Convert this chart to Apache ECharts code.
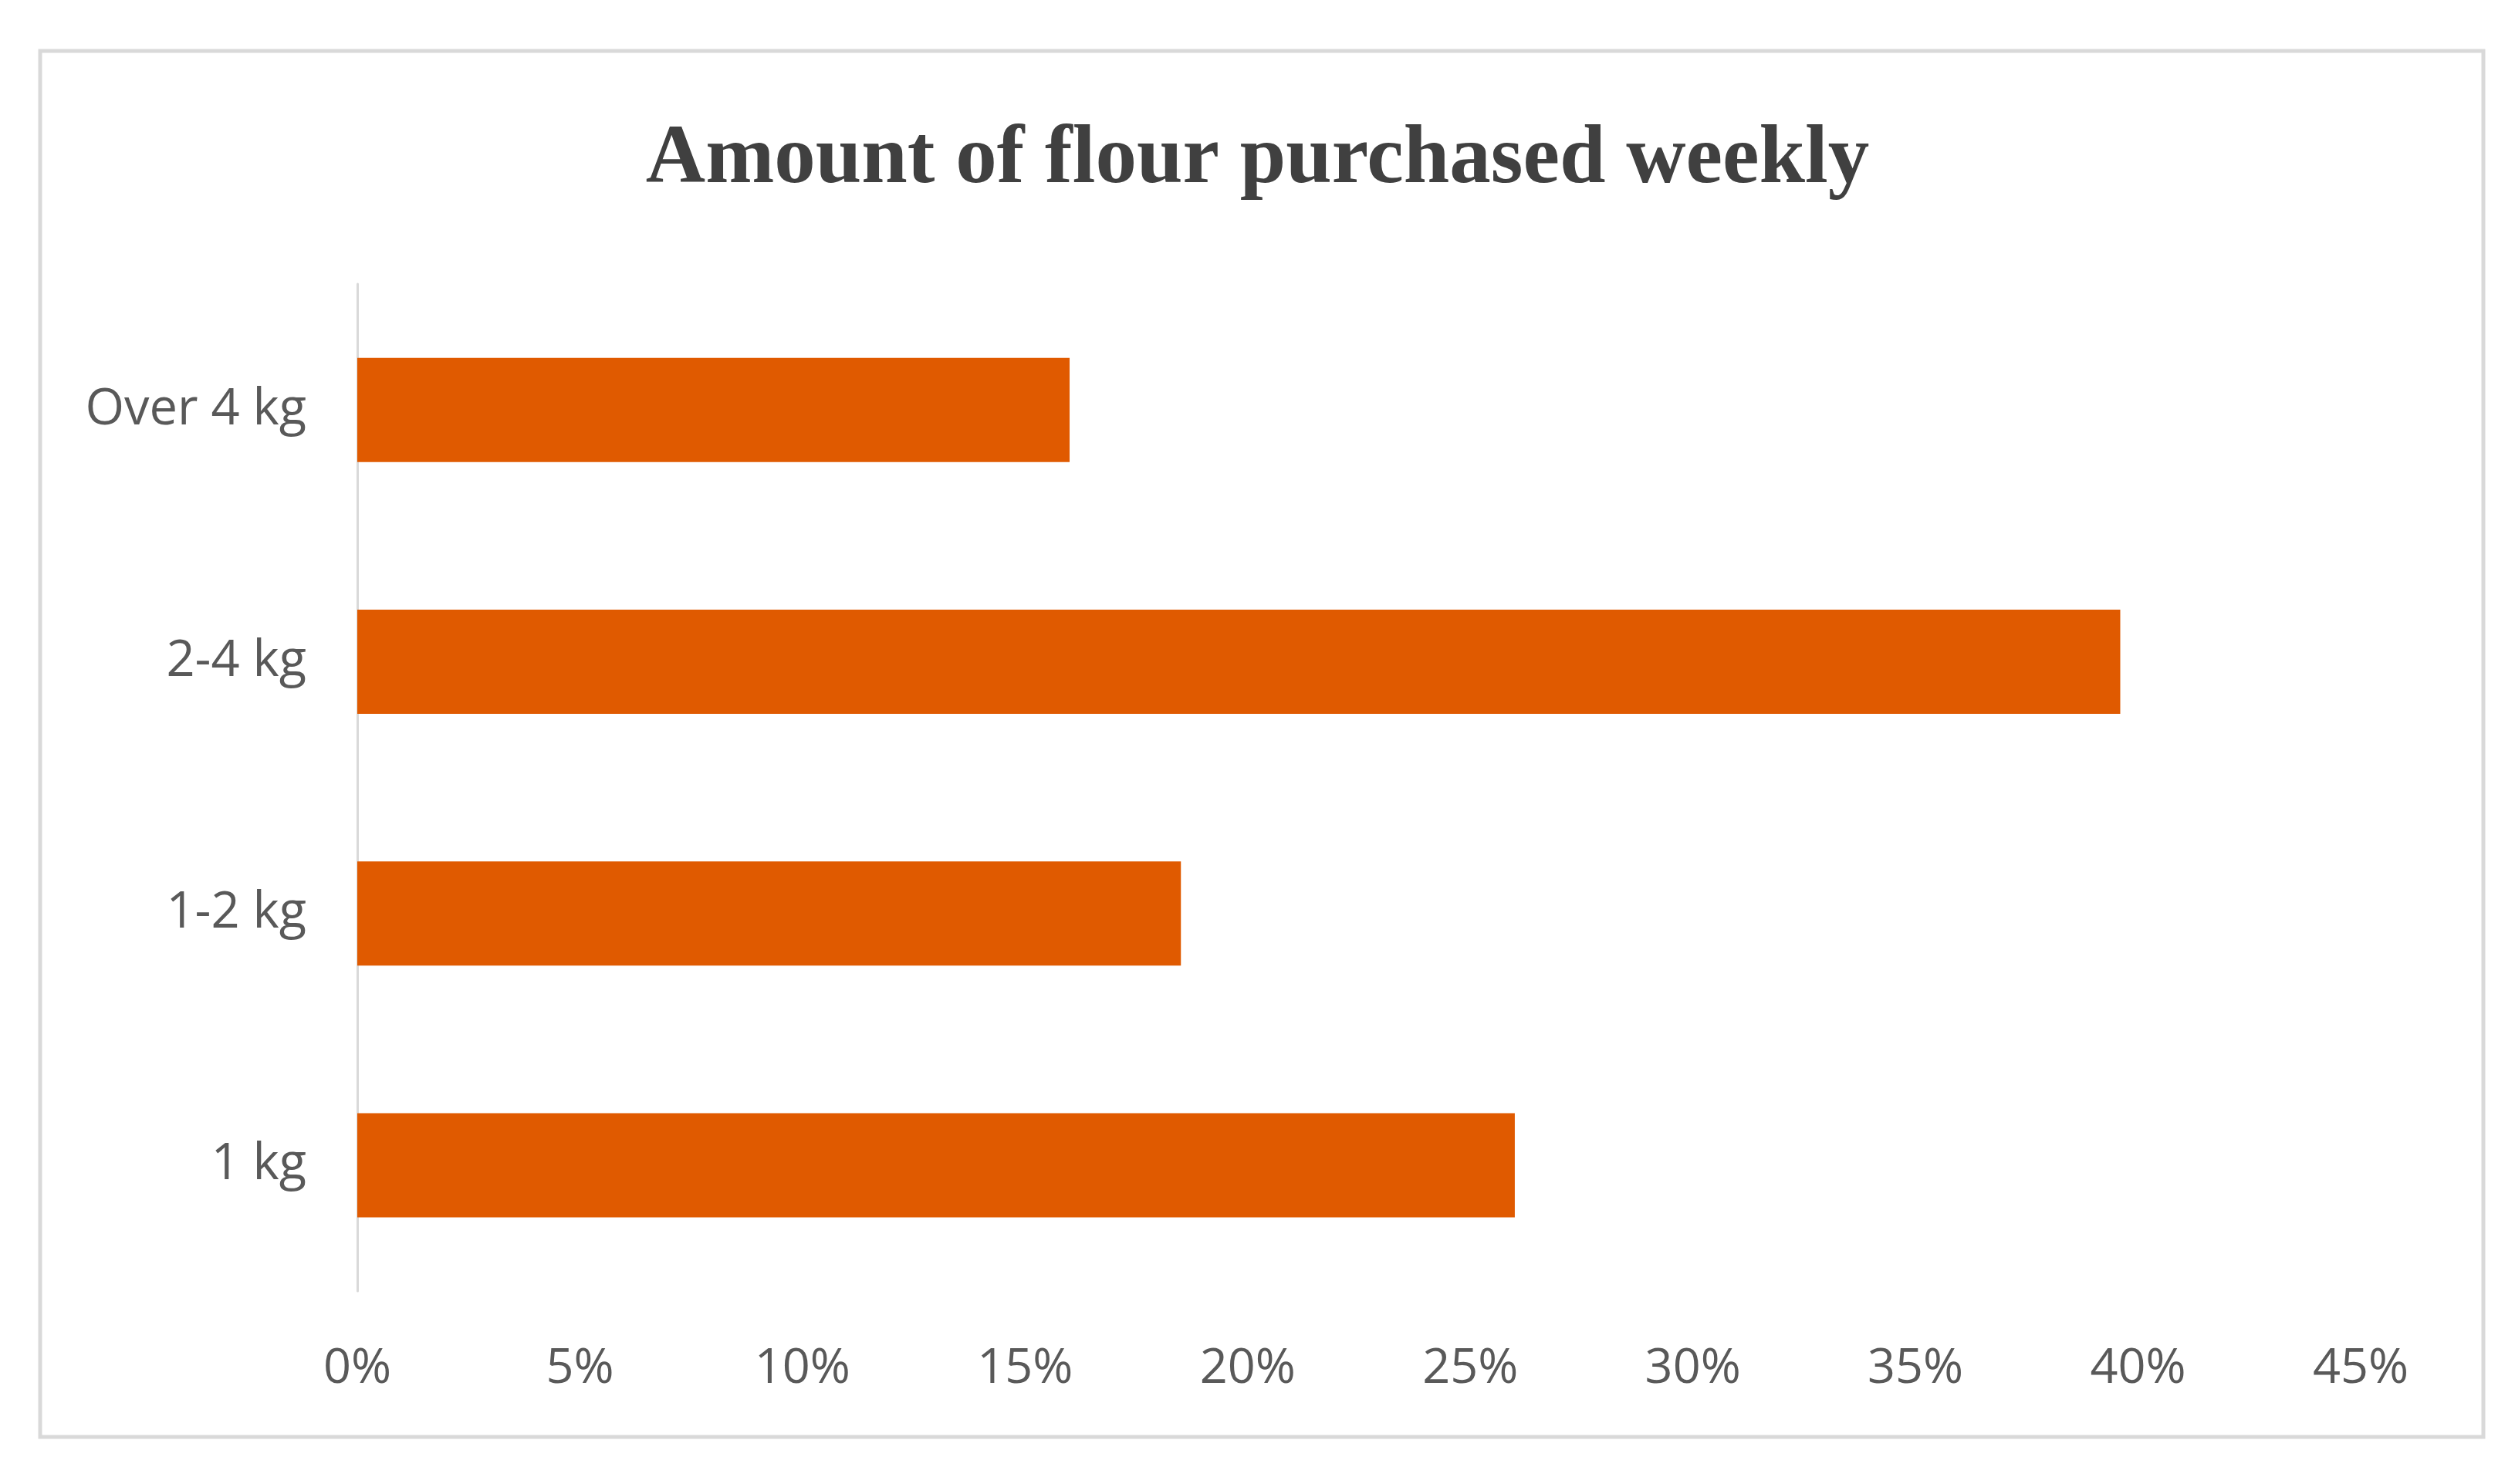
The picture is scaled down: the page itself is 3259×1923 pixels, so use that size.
<!DOCTYPE html>
<html>
<head>
<meta charset="utf-8">
<script src="https://cdn.jsdelivr.net/npm/echarts@6/dist/echarts.min.js"></script>
<style>
html,body{margin:0;padding:0;background:#fff;}
#chart{width:3259px;height:1923px;}
</style>
</head>
<body>
<div id="chart"></div>
<script>
const titleText = 'Amount of flour purchased weekly';
const categories = ['1 kg', '1-2 kg', '2-4 kg', 'Over 4 kg'];
const shares = [26.0, 18.5, 39.6, 16.0];
const tickValues = [0, 5, 10, 15, 20, 25, 30, 35, 40, 45];

const chart = echarts.init(document.getElementById('chart'), null, {renderer: 'canvas'});
chart.setOption({
  backgroundColor: '#ffffff',
  animation: false,
  graphic: [{
    type: 'rect',
    shape: {x: 52, y: 66, width: 3166, height: 1796},
    style: {fill: 'none', stroke: '#d9d9d9', lineWidth: 5},
    silent: true
  }],
  title: {
    text: titleText,
    left: 'center',
    top: 150,
    textStyle: {
      fontFamily: 'Liberation Serif',
      fontWeight: 'bold',
      fontSize: 107,
      color: '#404040'
    }
  },
  grid: {
    left: 463,
    right: 200,
    top: 368,
    bottom: 250,
    containLabel: false
  },
  xAxis: {
    type: 'value',
    min: tickValues[0],
    max: tickValues[tickValues.length - 1],
    interval: 5,
    axisLine: {show: false},
    axisTick: {show: false},
    splitLine: {show: false},
    axisLabel: {
      formatter: '{value}%',
      fontFamily: 'Open Sans',
      fontSize: 63,
      color: '#595959',
      margin: 70
    }
  },
  yAxis: {
    type: 'category',
    data: categories,
    axisLine: {show: true, lineStyle: {color: '#d9d9d9', width: 3}},
    axisTick: {show: false},
    axisLabel: {
      fontFamily: 'Open Sans',
      fontSize: 65,
      color: '#595959',
      margin: 66,
      padding: [6, 0, 0, 0]
    }
  },
  series: [{
    type: 'bar',
    data: shares,
    barWidth: 135,
    itemStyle: {color: '#e05a00'}
  }]
});
</script>
</body>
</html>
